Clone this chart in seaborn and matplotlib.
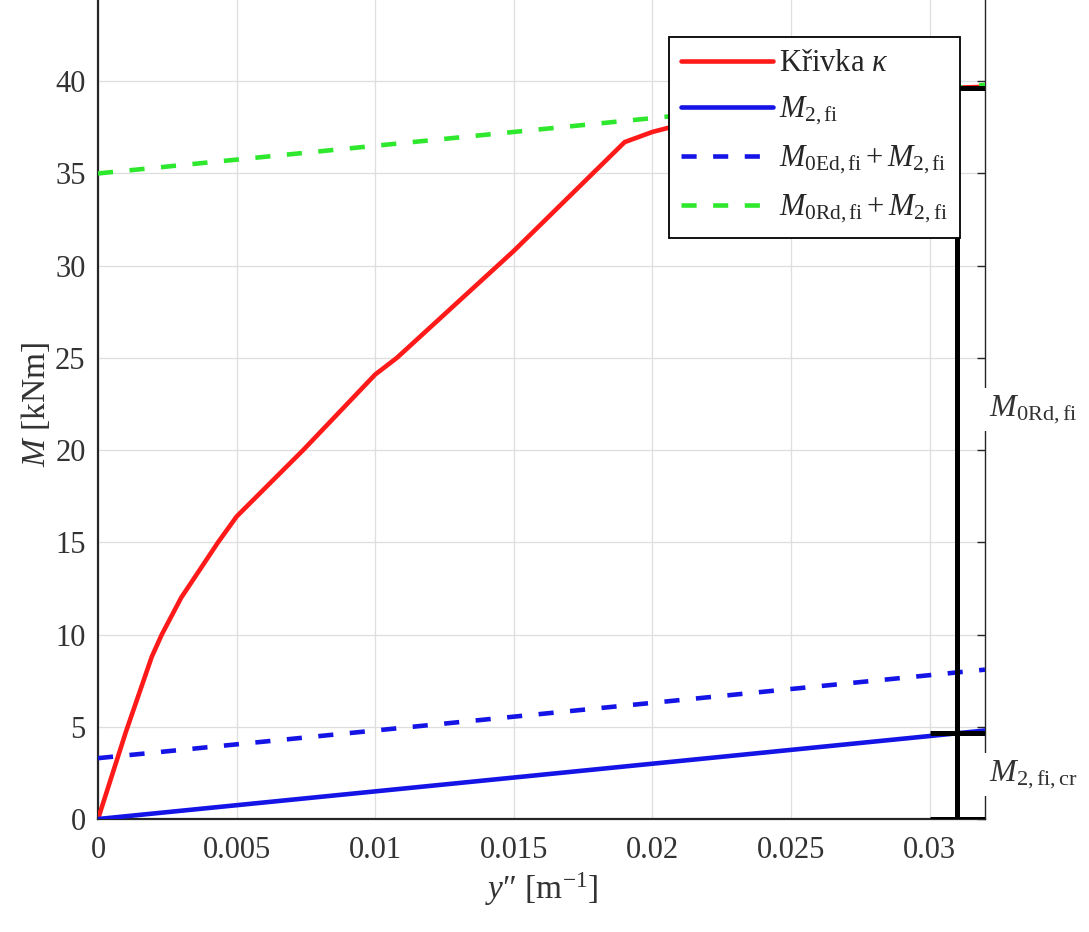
import numpy as np
import pandas as pd
import matplotlib
matplotlib.use("Agg")
import matplotlib.pyplot as plt
import seaborn as sns

# --- data ---
curv_x = [0.0, 0.001, 0.00194, 0.0023, 0.003, 0.00433, 0.005, 0.0074, 0.01,
          0.01078, 0.015, 0.019, 0.02, 0.0245, 0.031, 0.032]
curv_m = [0.0, 4.7, 8.8, 10.0, 12.0, 15.0, 16.4, 20.0, 24.1,
          25.0, 30.8, 36.7, 37.25, 39.0, 39.65, 39.7]

line_x = [0.0, 0.032]
m2_fi = [0.0, 4.8]
m0ed_m2 = [3.3, 8.1]
m0rd_m2 = [35.0, 39.8]

# annotation bars (x position of the vertical bar, bar span, levels)
ann_x = 0.031
ann_span = [0.030, 0.032]
m2_fi_cr = 4.65
m_top = 39.65

labels = ["Křivka $\\kappa$",
          "$M_{2,\\mathrm{fi}}$",
          "$M_{0\\mathrm{Ed,fi}} + M_{2,\\mathrm{fi}}$",
          "$M_{0\\mathrm{Rd,fi}} + M_{2,\\mathrm{fi}}$"]
colors = ["#ff1a1a", "#1414e6", "#1414e6", "#2ee82e"]

sns.set_style("whitegrid")
plt.rcParams["font.family"] = ["Liberation Serif", "DejaVu Serif"]
plt.rcParams["mathtext.fontset"] = "custom"
plt.rcParams["mathtext.rm"] = "Liberation Serif"
plt.rcParams["mathtext.it"] = "Liberation Serif:italic"
plt.rcParams["mathtext.bf"] = "Liberation Serif:bold"

fig = plt.figure(figsize=(10.89, 9.32), dpi=100)
ax = fig.add_axes([0.09, 0.1212, 0.8145, 0.8906])

lw = 3.3
dash = (3.3, 3.6)

df_k = pd.DataFrame({"x": curv_x, "M": curv_m})
sns.lineplot(data=df_k, x="x", y="M", ax=ax, color=colors[0], lw=lw,
             label=labels[0], sort=False, zorder=4)
df_l = pd.DataFrame({"x": line_x, "m2": m2_fi, "m0ed": m0ed_m2, "m0rd": m0rd_m2})
sns.lineplot(data=df_l, x="x", y="m2", ax=ax, color=colors[1], lw=lw,
             label=labels[1], zorder=4)
sns.lineplot(data=df_l, x="x", y="m0ed", ax=ax, color=colors[2], lw=lw,
             label=labels[2], zorder=4)
sns.lineplot(data=df_l, x="x", y="m0rd", ax=ax, color=colors[3], lw=lw,
             label=labels[3], zorder=4)
ax.lines[2].set_dashes(dash)
ax.lines[3].set_dashes(dash)

# black annotation bars
ax.plot([ann_x, ann_x], [0, m_top], color="black", lw=3.6, zorder=5)
for lvl in [0, m2_fi_cr, m_top]:
    ax.plot(ann_span, [lvl, lvl], color="black", lw=3.6, zorder=5,
            solid_capstyle="butt")

ax.set_xlim(0, 0.032)
ax.set_ylim(0, 45)
ax.set_xticks(np.arange(0, 0.0301, 0.005))
ax.set_xticklabels(["0", "0.005", "0.01", "0.015", "0.02", "0.025", "0.03"])
ax.set_yticks(np.arange(0, 41, 5))

ax.grid(True, color="#dedede", lw=0.9)
for s in ax.spines.values():
    s.set_color("#262626")
    s.set_linewidth(1.0)
    s.set_visible(True)
ax.spines["left"].set_linewidth(1.6)
ax.spines["bottom"].set_linewidth(1.6)
ax.tick_params(direction="in", length=6, width=1.0, top=True, right=True,
               labelsize=22, colors="#262626", labelcolor="#333333")
ax.tick_params(axis="x", pad=12)
ax.tick_params(axis="y", pad=9)

ax.set_xlabel("$y$″ [m$^{-1}$]", fontsize=24, color="#333333", labelpad=4)
ax.set_ylabel("$M$ [kNm]", fontsize=24, color="#333333", labelpad=2)

leg = ax.legend(loc="upper right", bbox_to_anchor=(0.972, 0.942),
                fontsize=22, frameon=True, fancybox=False, framealpha=1,
                edgecolor="black", handlelength=3.0, labelspacing=0.55,
                borderpad=0.4, handletextpad=0.2, borderaxespad=0)
leg.get_frame().set_linewidth(1.3)
leg.set_zorder(10)
for h in leg.get_lines()[2:]:
    h.set_dashes(dash)

# labels on the right, white box hides the spine behind them
ax.text(0.03215, 22.2, "$M_{0\\mathrm{Rd,fi}}$", fontsize=23, color="#333333",
        va="center", ha="left", clip_on=False, zorder=12,
        bbox=dict(facecolor="white", edgecolor="none", pad=4))
ax.text(0.03215, 2.4, "$M_{2,\\mathrm{fi,cr}}$", fontsize=23, color="#333333",
        va="center", ha="left", clip_on=False, zorder=12,
        bbox=dict(facecolor="white", edgecolor="none", pad=4))

fig.savefig("out.png", dpi=100)
